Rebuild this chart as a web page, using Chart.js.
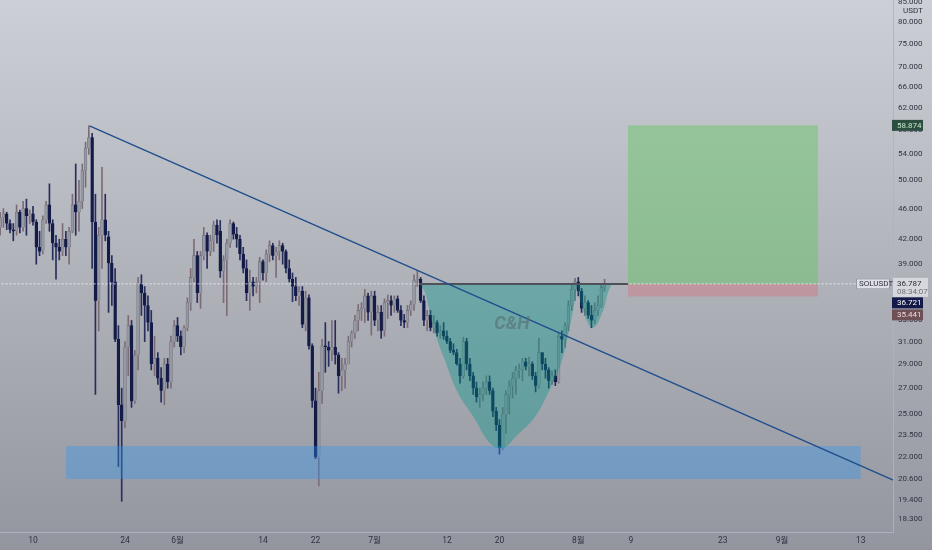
<!DOCTYPE html>
<html><head><meta charset="utf-8">
<script src="https://cdn.jsdelivr.net/npm/chart.js@4.4.0/dist/chart.umd.min.js"></script>
<style>html,body{margin:0;padding:0;background:#b4b6be;}canvas{display:block}</style>
</head><body>
<canvas id="c" width="932" height="550"></canvas>
<script>
// ---- data (12h candles, x in days from 10 May) ----
const startDay = -5;
const stepDays = 0.5;
const opens  = [43.5,44.8,45.3,44.0,43.2,43.0,45.5,43.5,46.0,45.0,45.3,44.2,41.0,40.5,44.5,46.5,44.0,41.5,41.0,40.5,42.0,41.0,43.0,46.5,45.5,47.0,51.5,55.0,56.8,44.2,35.0,42.5,44.5,42.3,39.1,37.0,31.2,25.7,24.5,30.5,32.5,26.0,29.8,36.8,35.8,34.5,32.8,29.0,29.5,27.8,26.8,29.0,27.5,31.0,32.5,31.5,30.5,32.3,34.8,37.5,40.0,35.8,40.0,42.5,40.5,41.8,43.8,43.0,38.2,39.5,41.5,44.0,42.6,42.0,40.2,38.5,35.8,37.0,36.5,37.0,39.3,38.0,40.2,41.2,40.0,40.5,41.2,40.5,38.5,37.3,36.5,35.5,36.0,32.6,35.3,30.6,26.0,22.0,26.8,30.6,30.5,30.2,30.5,29.8,28.0,28.5,29.0,31.0,31.8,33.0,34.0,34.2,35.5,33.8,35.5,33.0,33.8,32.0,34.8,35.0,34.5,35.2,34.0,33.0,32.8,34.0,34.6,37.2,37.3,35.0,33.0,33.5,32.3,32.8,31.8,32.0,31.5,31.0,30.2,30.0,29.0,28.0,31.0,29.0,28.0,27.0,26.3,26.5,27.0,27.5,26.8,25.2,24.2,22.6,25.0,26.5,27.2,27.8,28.5,28.6,29.2,28.8,29.0,28.0,27.2,30.0,29.0,28.5,27.6,28.0,27.5,31.5,31.2,32.5,34.5,36.2,37.0,36.0,34.2,34.8,33.5,33.0,34.0,34.5,36.4];
const highs  = [45.5,46.0,45.5,44.5,44.0,46.5,45.8,47.0,47.3,45.8,46.3,44.5,43.0,45.0,47.0,49.5,44.5,42.5,42.0,44.0,43.0,43.5,48.0,52.5,50.0,52.5,56.0,58.8,57.5,48.0,43.5,52.0,48.0,43.0,40.0,38.5,32.5,27.0,31.0,33.5,33.0,30.2,37.5,37.8,36.5,35.5,34.0,31.5,30.0,28.7,29.5,29.5,31.5,33.0,33.3,32.0,32.5,35.3,38.5,42.0,40.5,40.5,43.5,42.8,42.5,44.3,44.5,44.4,40.0,42.0,44.5,44.2,43.5,42.5,41.0,39.5,38.3,37.5,37.5,39.8,39.5,40.7,41.8,41.5,41.0,41.8,41.5,40.7,39.5,38.0,37.5,36.5,36.5,36.0,35.6,30.8,27.0,28.3,31.2,32.8,31.0,33.0,33.0,30.0,29.5,29.5,31.5,32.0,33.5,34.6,34.8,36.2,35.8,36.0,36.0,34.5,34.5,35.2,35.6,35.5,35.5,35.5,34.5,33.6,34.5,35.0,37.8,38.3,37.5,35.5,34.0,34.0,33.5,33.0,32.5,32.8,32.0,31.3,30.8,30.3,29.5,31.4,31.3,29.5,28.3,27.5,27.0,27.5,28.0,28.0,27.0,25.5,24.6,25.5,26.8,27.6,28.3,28.8,29.0,29.5,29.5,29.6,29.2,28.3,31.3,30.0,29.5,28.7,28.4,28.5,31.8,32.0,32.8,35.0,36.7,37.4,37.5,36.3,35.5,35.0,34.5,34.8,35.5,36.8,37.3];
const lows   = [42.5,43.5,43.2,42.8,41.8,42.5,42.8,43.0,42.5,44.0,43.8,39.0,40.0,40.2,44.0,43.0,39.5,37.3,39.5,40.0,40.0,39.0,42.8,42.5,43.0,46.0,49.0,54.0,38.5,26.5,32.0,38.5,41.8,33.8,34.5,31.0,21.4,19.3,24.0,28.0,25.5,25.8,28.5,33.5,31.0,32.0,28.5,28.0,27.3,25.9,25.7,27.0,27.0,30.5,31.0,29.8,30.0,32.0,34.0,37.0,34.8,34.2,39.5,38.5,40.0,40.5,41.5,37.5,34.8,33.5,41.0,42.0,41.0,39.5,38.0,35.0,34.0,35.5,35.8,34.8,37.2,37.0,39.3,39.5,37.5,39.5,39.0,38.0,37.0,34.9,35.0,34.5,32.3,32.0,30.3,25.5,21.9,20.2,25.8,28.3,28.8,29.3,29.0,26.6,26.8,27.0,29.0,30.5,31.3,32.0,33.0,32.8,33.0,31.6,32.5,32.0,31.3,31.5,33.2,33.5,33.8,33.8,32.5,32.3,32.3,33.5,34.0,36.5,34.8,32.5,32.0,32.0,31.8,31.5,31.3,31.2,30.8,30.0,29.8,28.9,27.4,27.8,28.5,27.6,26.5,25.9,25.5,26.0,26.5,26.5,24.8,23.8,22.2,22.5,23.6,25.0,26.2,26.5,27.8,27.6,28.5,28.0,27.7,26.7,27.0,28.5,27.8,27.0,27.3,27.2,27.4,30.0,30.5,32.0,34.0,35.0,35.5,33.8,33.5,33.2,32.3,32.7,33.5,34.3,36.0];
const closes = [44.8,45.3,44.0,43.2,43.0,45.5,43.5,46.0,45.0,45.3,44.2,41.0,40.5,44.5,46.5,44.0,41.5,41.0,40.5,42.0,41.0,43.0,46.5,45.5,47.0,51.5,55.0,56.8,44.2,35.0,42.5,44.5,42.5,39.1,37.0,31.2,25.7,24.5,30.5,32.5,26.0,29.8,36.8,35.8,34.5,32.8,29.0,29.5,27.8,26.8,29.0,27.5,31.0,32.5,31.5,30.5,32.3,34.8,37.5,40.0,35.8,40.0,42.5,40.5,41.8,43.8,42.5,38.2,39.5,41.5,44.0,42.6,42.0,40.2,38.5,35.8,37.0,36.5,37.0,39.3,38.0,40.2,41.2,40.0,40.5,41.2,40.5,38.5,37.3,36.5,35.5,36.0,32.6,35.3,30.6,26.0,22.0,26.8,30.6,30.5,30.2,30.5,29.8,28.0,28.5,29.0,31.0,31.8,33.0,34.0,34.2,35.5,33.8,35.5,33.0,33.8,32.0,34.8,35.0,34.5,35.2,34.0,33.0,32.8,34.0,34.6,37.2,37.3,35.0,33.0,33.5,32.3,32.8,31.8,32.0,31.5,31.0,30.2,30.0,29.0,28.0,31.0,29.0,28.0,27.0,26.3,26.5,27.0,27.5,26.8,25.2,24.2,22.6,25.0,26.5,27.2,27.8,28.5,28.6,29.2,28.8,29.0,28.0,27.2,30.0,29.0,28.5,27.6,28.0,27.5,31.5,31.2,32.5,34.5,36.2,37.0,36.0,34.2,34.8,33.5,33.0,34.0,34.5,36.4,36.787];

const xTickDays   = [0,14,22,35,43,52,63,71,83,91,105,114,126];
const xTickLabels = ['10','24','6월','14','22','7월','12','20','8월','9','23','9월','13'];
const yTicks = [85,80,75,70,66,62,58,54,50,46,42,39,36,33,31,29,27,25,23.5,22,20.6,19.4,18.3];
const unitLabel = 'USDT';

const trendDays = [8.6, 131.5];
const trendPrices = [58.8, 20.45];
const zoneDays = [5.0, 126.0];
const zoneTop = 22.74, zoneBottom = 20.62;
const targetDays = [90.56, 119.5];
const targetPrice = 58.874, entryPrice = 36.787, stopPrice = 35.441, maPrice = 36.721;
const rimDays = [58.9, 90.56];
const cupDays   = [58.9,59.7,60.9,62.7,64.7,67.3,68.8,69.9,71.1,72.3,73.4,76.1,78.4,80.5,81.7,82.5,82.8];
const cupPrices = [36.787,35.8,32.4,29.3,26.6,24.6,23.35,22.8,22.6,22.8,23.35,24.6,26.6,29.3,32.4,35.1,36.787];
const handleDays   = [82.8,83.7,85.2,86.8,87.5,88.1];
const handlePrices = [36.787,34.0,32.3,34.0,35.8,36.787];
const patternLabel = 'C&H', patternDay = 72.9, patternPrice = 32.6;
const symbolLabel = 'SOLUSDT', timerLabel = '08:34:07';

const FONT = "Roboto,'Noto Sans CJK KR',sans-serif";
const xs = opens.map((_, i) => startDay + i * stepDays);
const up = opens.map((o, i) => closes[i] >= o);

const bgPlugin = {
  id: 'bg',
  beforeDraw(chart) {
    const ctx = chart.ctx;
    const g = ctx.createLinearGradient(0, 0, 0, chart.height);
    g.addColorStop(0, 'rgb(205,207,214)');
    g.addColorStop(1, 'rgb(148,150,159)');
    ctx.save(); ctx.fillStyle = g; ctx.fillRect(0, 0, chart.width, chart.height); ctx.restore();
  }
};

const textPlugin = {
  id: 'texts',
  afterDatasetsDraw(chart) {
    const {ctx, scales: {x, y}} = chart;
    ctx.save();
    ctx.font = `italic bold 18px Roboto, sans-serif`;
    ctx.fillStyle = 'rgba(90,115,120,0.7)';
    ctx.textAlign = 'center'; ctx.textBaseline = 'middle';
    ctx.fillText(patternLabel, x.getPixelForValue(patternDay), y.getPixelForValue(patternPrice));
    ctx.restore();
  },
  afterDraw(chart) {
    const {ctx, chartArea: a, scales: {y}} = chart;
    ctx.save();
    ctx.font = `8px ${FONT}`; ctx.fillStyle = '#2f3240'; ctx.textAlign = 'left'; ctx.textBaseline = 'middle';
    ctx.fillText(unitLabel, a.right + 10, 11);
    const box = (cy, h, bg, lines) => {
      ctx.fillStyle = bg;
      ctx.fillRect(a.right - 1, cy - h / 2, 31, h);
      ctx.textAlign = 'left';
      lines.forEach(([t, col, dy]) => { ctx.fillStyle = col; ctx.fillText(t, a.right + 4, cy + dy); });
    };
    box(y.getPixelForValue(targetPrice), 11, 'rgb(44,78,64)', [[targetPrice.toFixed(3), 'rgb(195,232,200)', 0.5]]);
    const ey = y.getPixelForValue(entryPrice);
    ctx.fillStyle = 'rgb(214,216,222)'; ctx.fillRect(a.right, ey - 6, 35, 19);
    ctx.fillStyle = '#2a2d38'; ctx.fillText(entryPrice.toFixed(3), a.right + 4, ey + 0.5);
    ctx.fillStyle = '#6d707a'; ctx.fillText(timerLabel, a.right + 4, ey + 8.5);
    box(ey + 19, 11, 'rgb(20,26,72)', [[maPrice.toFixed(3), '#ffffff', 0.5]]);
    box(ey + 31, 11, 'rgb(108,80,86)', [[stopPrice.toFixed(3), 'rgb(240,215,220)', 0.5]]);
    // symbol label
    ctx.fillStyle = 'rgb(222,224,229)'; ctx.strokeStyle = 'rgb(150,152,160)'; ctx.lineWidth = 1;
    ctx.fillRect(a.right - 37, ey - 5.5, 34, 11); ctx.strokeRect(a.right - 36.5, ey - 5, 33, 10);
    ctx.fillStyle = '#2f3240'; ctx.fillText(symbolLabel, a.right - 34, ey + 0.5);
    ctx.restore();
  }
};

const lineDs = (data, extra) => Object.assign({type: 'line', data, pointRadius: 0, borderWidth: 0, fill: false, tension: 0}, extra);
const pts = (dx, py) => dx.map((d, i) => ({x: d, y: py[i]}));

new Chart(document.getElementById('c'), {
  type: 'bar',
  data: {
    datasets: [
      { type: 'bar', order: 20, grouped: false, barThickness: 1,
        data: xs.map((d, i) => ({x: d, y: [lows[i], highs[i]]})),
        backgroundColor: up.map(u => u ? 'rgb(125,108,118)' : 'rgb(40,46,92)') },
      { type: 'bar', order: 19, grouped: false, barThickness: 2.8,
        data: xs.map((d, i) => ({x: d, y: [opens[i], closes[i]]})),
        backgroundColor: up.map(u => u ? 'rgb(150,153,162)' : 'rgb(20,27,72)'),
        borderColor: up.map(u => u ? 'rgb(105,108,118)' : 'rgb(20,27,72)'), borderWidth: 0.6 },
      lineDs(pts(zoneDays, [zoneTop, zoneTop]), {order: 10, fill: {value: zoneBottom}, backgroundColor: 'rgba(45,150,240,0.36)'}),
      lineDs(pts(targetDays, [targetPrice, targetPrice]), {order: 10, fill: {value: entryPrice}, backgroundColor: 'rgba(90,200,90,0.42)'}),
      lineDs(pts(targetDays, [entryPrice, entryPrice]), {order: 10, fill: {value: stopPrice}, backgroundColor: 'rgba(242,54,69,0.22)'}),
      lineDs(pts(cupDays, cupPrices), {order: 8, fill: {value: entryPrice}, tension: 0.4, backgroundColor: 'rgba(0,150,136,0.38)'}),
      lineDs(pts(handleDays, handlePrices), {order: 8, fill: {value: entryPrice}, tension: 0.4, backgroundColor: 'rgba(0,150,136,0.38)'}),
      lineDs(pts([-6, 132], [entryPrice, entryPrice]), {order: 6, borderWidth: 1, borderColor: 'rgba(245,246,250,0.8)', borderDash: [2, 2]}),
      lineDs(pts(rimDays, [entryPrice, entryPrice]), {order: 5, borderWidth: 2, borderColor: 'rgb(78,80,92)'}),
      lineDs(pts(trendDays, trendPrices), {order: 1, borderWidth: 1.3, borderColor: 'rgb(30,78,140)'})
    ]
  },
  options: {
    responsive: false, animation: false, devicePixelRatio: 1,
    layout: {padding: 0},
    plugins: {legend: {display: false}, tooltip: {enabled: false}},
    scales: {
      x: {
        type: 'linear', min: -5.023, max: 130.9, offset: false, bounds: 'data',
        grid: {display: false, drawTicks: false},
        border: {display: true, color: 'rgba(175,178,188,0.9)'},
        afterBuildTicks: s => { s.ticks = xTickDays.map(v => ({value: v})); },
        afterFit: s => { s.height = 18; s.paddingLeft = 0; s.paddingRight = 0; },
        ticks: {autoSkip: false, maxRotation: 0, padding: 4, color: '#2f3240', font: {family: FONT, size: 8.5},
          callback: v => xTickLabels[xTickDays.indexOf(v)]}
      },
      y: {
        type: 'logarithmic', position: 'right', min: 17.62, max: 85.4, bounds: 'data',
        grid: {display: false, drawTicks: false},
        border: {display: true, color: 'rgba(175,178,188,0.9)'},
        afterBuildTicks: s => { s.ticks = yTicks.map(v => ({value: v})); },
        afterFit: s => { s.width = 39; s.paddingTop = 0; s.paddingBottom = 0; },
        ticks: {autoSkip: false, padding: 5, color: '#2f3240', font: {family: FONT, size: 8},
          callback: v => Number(v).toFixed(3)}
      }
    }
  },
  plugins: [bgPlugin, textPlugin]
});
</script>
</body></html>
